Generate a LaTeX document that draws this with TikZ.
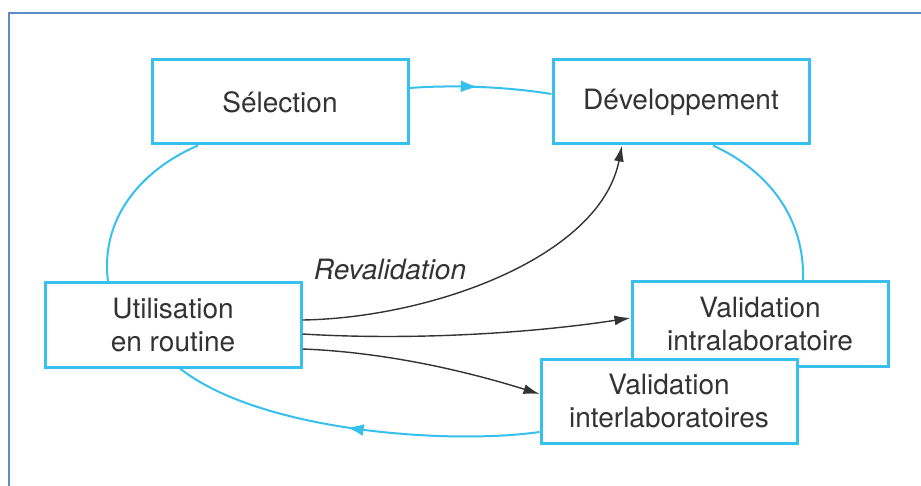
\documentclass[tikz,border=0pt]{standalone}
\usepackage{fontspec}
\setsansfont{TeX Gyre Heros}
\usetikzlibrary{arrows.meta,calc,decorations.markings}
\definecolor{cy}{HTML}{35C0EE}
\definecolor{fr}{HTML}{5F8BC9}
\definecolor{ink}{HTML}{333333}

\begin{document}
\begin{tikzpicture}[
  x=0.5pt,y=-0.5pt,
  >={Latex[length=8pt,width=5pt]},
  box/.style={rectangle,draw=cy,line width=1.5pt,fill=white,minimum width=128pt,minimum height=42pt,align=center,text=ink,font=\sffamily\fontsize{14}{16.5}\selectfont},
  flow/.style={cy,line width=1pt},
  link/.style={->,ink,line width=0.7pt},
  midtip/.style={postaction={decorate},decoration={markings,mark=at position #1 with {\arrow{Latex[length=8.5pt,width=6pt]}}}},
  lbl/.style={text=ink,font=\sffamily\itshape\fontsize{14}{16.5}\selectfont}]

\useasboundingbox (0,0) rectangle (921,486);

% frame
\draw[fr,line width=1pt] (9,486) -- (9,13) -- (921,13);

% steps of the cycle
\node[box] (sel) at (280,102) {Sélection};
\node[box] (dev) at (681,102) {Développement};
\node[box] (util) at (173,325) {Utilisation\\en routine};
\node[box] (intra) at (760,324) {Validation\\intralaboratoire};
\node[box] (inter) at (669,401) {Validation\\interlaboratoires};

% cycle
\draw[flow,midtip=0.48] ($(sel.east)+(0,-14)$) .. controls +(40,-3) and +(-50,-8) .. ($(dev.west)+(0,-8)$);
\draw[flow] ($(dev.south)+(32,0)$) .. controls +(57,26) and +(2,-61) .. ($(intra.north)+(43,0)$);
\draw[flow,midtip=0.52] ($(inter.west)+(0,31)$) .. controls +(-91,13) and +(80,63) .. ($(util.south)+(7,0)$);
\draw[flow] ($(util.north)+(-65,0)$) .. controls +(-8,-62) and +(-58,25) .. ($(sel.south)+(-82,0)$);

% revalidation
\draw[link] ($(util.east)+(0,-5)$) .. controls +(128,-2) and +(-22,112) .. ($(dev.south)+(-59,0)$);
\draw[link] ($(util.east)+(0,9)$) .. controls +(98,6) and +(-112,17) .. ($(intra.west)+(0,-6)$);
\draw[link] ($(util.east)+(0,24)$) .. controls +(78,3) and +(-80,-25) .. ($(inter.west)+(0,-7)$);
\node[lbl] (reval) at (390,270) {Revalidation};
\end{tikzpicture}
\end{document}
